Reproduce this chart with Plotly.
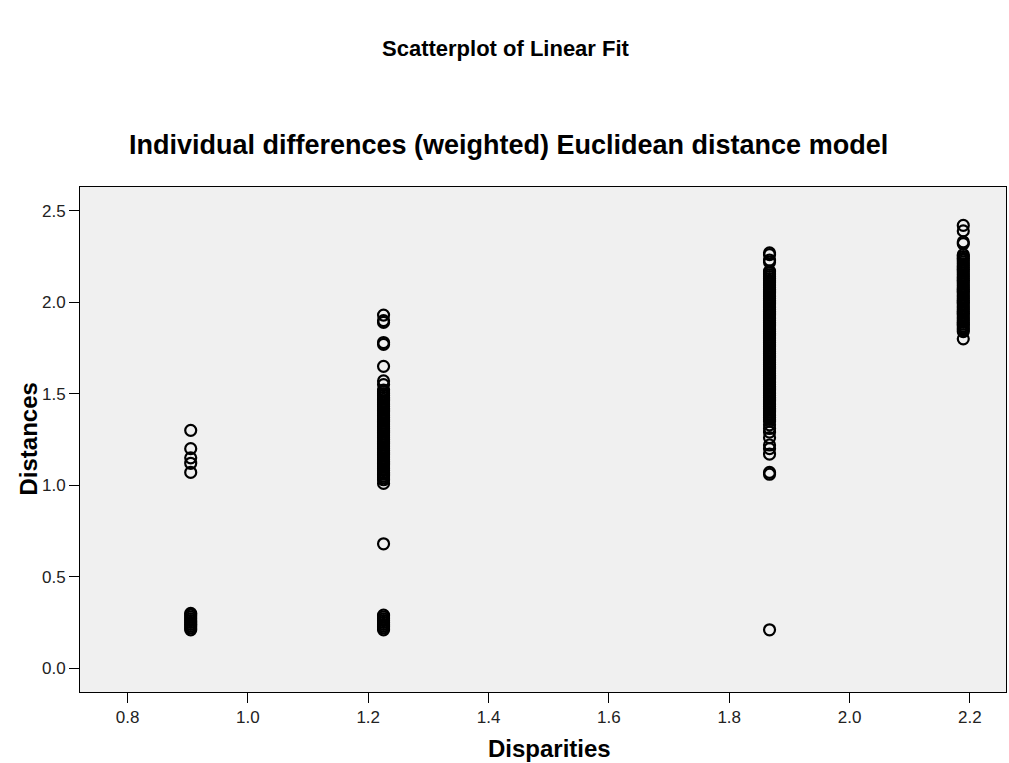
import plotly.graph_objects as go

# Disparity levels (x) read from the columns
disparity_levels = [0.905, 1.2255, 1.867, 2.189]

# Distances (y) for each disparity level
distances_g1 = [1.30, 1.20, 1.15, 1.12, 1.07,
                0.30, 0.29, 0.28, 0.27, 0.26, 0.25, 0.24, 0.23, 0.22, 0.21]
distances_g2 = [1.93, 1.90, 1.89, 1.78, 1.77, 1.65, 1.57, 1.55,
                1.52, 1.51, 1.50, 1.49, 1.48, 1.47, 1.46, 1.45, 1.44, 1.43,
                1.42, 1.41, 1.40, 1.39, 1.38, 1.37, 1.36, 1.35, 1.34, 1.33,
                1.32, 1.31, 1.30, 1.29, 1.28, 1.27, 1.26, 1.25, 1.24, 1.23,
                1.22, 1.21, 1.20, 1.19, 1.18, 1.17, 1.16, 1.15, 1.14, 1.13,
                1.12, 1.11, 1.10, 1.09, 1.08, 1.07, 1.06, 1.05, 1.04, 1.03,
                1.01, 0.68,
                0.29, 0.28, 0.27, 0.26, 0.25, 0.24, 0.23, 0.22, 0.21]
distances_g3 = [2.27, 2.26, 2.23, 2.22,
                2.17, 2.16, 2.15, 2.14, 2.13, 2.12, 2.11, 2.10, 2.09, 2.08,
                2.07, 2.06, 2.05, 2.04, 2.03, 2.02, 2.01, 2.00, 1.99, 1.98,
                1.97, 1.96, 1.95, 1.94, 1.93, 1.92, 1.91, 1.90, 1.89, 1.88,
                1.87, 1.86, 1.85, 1.84, 1.83, 1.82, 1.81, 1.80, 1.79, 1.78,
                1.77, 1.76, 1.75, 1.74, 1.73, 1.72, 1.71, 1.70, 1.69, 1.68,
                1.67, 1.66, 1.65, 1.64, 1.63, 1.62, 1.61, 1.60, 1.59, 1.58,
                1.57, 1.56, 1.55, 1.54, 1.53, 1.52, 1.51, 1.50, 1.49, 1.48,
                1.47, 1.46, 1.45, 1.44, 1.43, 1.42, 1.41, 1.40, 1.39, 1.38,
                1.37, 1.36, 1.35, 1.33, 1.31, 1.29, 1.26, 1.22, 1.20, 1.17,
                1.07, 1.06,
                0.21]
distances_g4 = [2.42, 2.39, 2.33, 2.32,
                2.26, 2.25, 2.24, 2.23, 2.22, 2.21, 2.20, 2.19, 2.18, 2.17,
                2.16, 2.15, 2.14, 2.13, 2.12, 2.11, 2.10, 2.09, 2.08, 2.07,
                2.06, 2.05, 2.04, 2.03, 2.02, 2.01, 2.00, 1.99, 1.98, 1.97,
                1.96, 1.95, 1.94, 1.93, 1.92, 1.91, 1.90, 1.89, 1.88, 1.87,
                1.86, 1.85, 1.84, 1.80]

groups = [distances_g1, distances_g2, distances_g3, distances_g4]

xs, ys = [], []
for level, vals in zip(disparity_levels, groups):
    xs.extend([level] * len(vals))
    ys.extend(vals)

x_ticks = [0.8, 1.0, 1.2, 1.4, 1.6, 1.8, 2.0, 2.2]
y_ticks = [0.0, 0.5, 1.0, 1.5, 2.0, 2.5]

fig = go.Figure()
fig.add_trace(go.Scatter(
    x=xs, y=ys, mode="markers",
    marker=dict(symbol="circle-open", size=11, color="black",
                line=dict(width=2.2, color="black")),
    showlegend=False, hoverinfo="x+y",
))

font_family = "Liberation Sans, Arial, sans-serif"

fig.update_layout(
    width=1009, height=763,
    margin=dict(l=80, r=3, t=187, b=71),
    paper_bgcolor="white",
    plot_bgcolor="#F0F0F0",
    font=dict(family=font_family, color="black"),
    annotations=[
        dict(text="<b>Scatterplot of Linear Fit</b>", xref="paper", yref="paper",
             x=0.46, y=1, yshift=139, xanchor="center", yanchor="middle",
             showarrow=False, font=dict(size=22, family=font_family, color="black")),
        dict(text="<b>Individual differences (weighted) Euclidean distance model</b>",
             xref="paper", yref="paper", x=0.463, y=1, yshift=42,
             xanchor="center", yanchor="middle", showarrow=False,
             font=dict(size=27, family=font_family, color="black")),
        dict(text="<b>Disparities</b>", xref="paper", yref="paper",
             x=0.507, y=0, yshift=-56, xanchor="center", yanchor="middle",
             showarrow=False, font=dict(size=24, family=font_family, color="black")),
        dict(text="<b>Distances</b>", xref="paper", yref="paper",
             x=0, y=0.5, xshift=-52, xanchor="center", yanchor="middle",
             textangle=-90, showarrow=False,
             font=dict(size=24, family=font_family, color="black")),
    ],
    xaxis=dict(
        range=[0.721, 2.26], tickvals=x_ticks,
        ticktext=[f"{v:.1f}" for v in x_ticks],
        showgrid=False, zeroline=False,
        showline=True, linecolor="black", linewidth=1, mirror=True,
        ticks="outside", ticklen=10, tickcolor="black", tickwidth=1,
        tickfont=dict(size=17, color="#222222"),
    ),
    yaxis=dict(
        range=[-0.13, 2.63], tickvals=y_ticks,
        ticktext=[f"{v:.1f}" for v in y_ticks],
        showgrid=False, zeroline=False,
        showline=True, linecolor="black", linewidth=1, mirror=True,
        ticks="outside", ticklen=10, tickcolor="black", tickwidth=1,
        tickfont=dict(size=17, color="#222222"),
    ),
)

fig.write_html("out.html")
